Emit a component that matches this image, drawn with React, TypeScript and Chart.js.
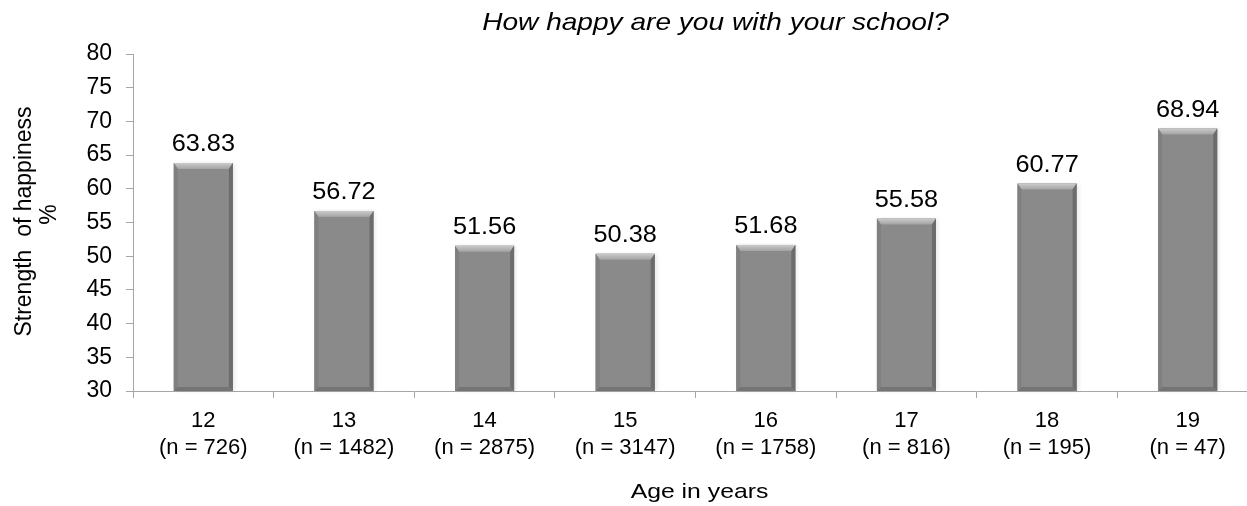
import React, { useEffect, useRef } from 'react';
import { Chart, registerables } from 'chart.js';

Chart.register(...registerables);

const ages = ['12', '13', '14', '15', '16', '17', '18', '19'];
const sampleSizes = [726, 1482, 2875, 3147, 1758, 816, 195, 47];
const happiness = [63.83, 56.72, 51.56, 50.38, 51.68, 55.58, 60.77, 68.94];
const yMin = 30;
const yMax = 80;
const yStep = 5;
const chartTitle = 'How happy are you with your school?';
const yTitleLines = ['Strength  of happiness', '%'];
const xTitle = 'Age in years';

const FONT = '"Liberation Sans", Arial, sans-serif';
const AXIS_COLOR = '#a6a6a6';
const BAR_COLOR = '#8a8a8a';

function barBox(chart: any, bar: any) {
  const { x, y, base, width } = bar.getProps(['x', 'y', 'base', 'width'], true);
  const a = chart.chartArea;
  return {
    l: x - width / 2,
    r: x + width / 2,
    t: Math.max(y, a.top),
    b: Math.min(base, a.bottom),
  };
}

const bevelPlugin = {
  id: 'bevel',
  beforeDatasetsDraw(chart: any) {
    const ctx = chart.ctx;
    const meta = chart.getDatasetMeta(0);
    ctx.save();
    meta.data.forEach((bar: any) => {
      const { l, r, t, b } = barBox(chart, bar);
      ctx.fillStyle = 'rgba(0,0,0,0.25)';
      ctx.shadowColor = 'rgba(0,0,0,0.35)';
      ctx.shadowBlur = 4;
      ctx.shadowOffsetX = 2;
      ctx.shadowOffsetY = 0;
      ctx.fillRect(l, t, r - l, b - t);
    });
    ctx.restore();
  },
  afterDatasetsDraw(chart: any) {
    const ctx = chart.ctx;
    const meta = chart.getDatasetMeta(0);
    ctx.save();
    meta.data.forEach((bar: any) => {
      const { l, r, t, b } = barBox(chart, bar);
      const bt = 6;
      const bs = 4;
      const bb = 4;
      const g = ctx.createLinearGradient(0, t, 0, t + bt);
      g.addColorStop(0, '#cbcbcb');
      g.addColorStop(1, '#a3a3a3');
      ctx.fillStyle = g;
      ctx.beginPath();
      ctx.moveTo(l, t);
      ctx.lineTo(r, t);
      ctx.lineTo(r - bs, t + bt);
      ctx.lineTo(l + bs, t + bt);
      ctx.closePath();
      ctx.fill();
      ctx.fillStyle = '#808080';
      ctx.beginPath();
      ctx.moveTo(l, t);
      ctx.lineTo(l + bs, t + bt);
      ctx.lineTo(l + bs, b - bb);
      ctx.lineTo(l, b);
      ctx.closePath();
      ctx.fill();
      ctx.fillStyle = '#6c6c6c';
      ctx.beginPath();
      ctx.moveTo(r, t);
      ctx.lineTo(r - bs, t + bt);
      ctx.lineTo(r - bs, b - bb);
      ctx.lineTo(r, b);
      ctx.closePath();
      ctx.fill();
      ctx.fillStyle = '#747474';
      ctx.beginPath();
      ctx.moveTo(l, b);
      ctx.lineTo(l + bs, b - bb);
      ctx.lineTo(r - bs, b - bb);
      ctx.lineTo(r, b);
      ctx.closePath();
      ctx.fill();
    });
    ctx.restore();
  },
};

function drawText(ctx: any, text: string, x: number, y: number, sx: number, rot = 0) {
  ctx.save();
  ctx.translate(x, y);
  if (rot) ctx.rotate(rot);
  ctx.scale(sx, 1);
  ctx.fillText(text, 0, 0);
  ctx.restore();
}

const valueLabelPlugin = {
  id: 'valueLabels',
  afterDatasetsDraw(chart: any) {
    const ctx = chart.ctx;
    const meta = chart.getDatasetMeta(0);
    const data = chart.data.datasets[0].data as number[];
    ctx.save();
    ctx.font = `23px ${FONT}`;
    ctx.fillStyle = '#000';
    ctx.textAlign = 'center';
    ctx.textBaseline = 'alphabetic';
    meta.data.forEach((bar: any, i: number) => {
      drawText(ctx, data[i].toFixed(2), bar.x, bar.y - 12, 1.1);
    });
    ctx.restore();
  },
};

const titlesPlugin = {
  id: 'titles',
  afterDraw(chart: any) {
    const ctx = chart.ctx;
    const a = chart.chartArea;
    const cx = (a.left + a.right) / 2;
    const cy = (a.top + a.bottom) / 2;
    ctx.save();
    ctx.fillStyle = '#000';
    ctx.textAlign = 'center';
    ctx.textBaseline = 'middle';
    ctx.font = `italic 24px ${FONT}`;
    drawText(ctx, chartTitle, cx + 20, a.top - 31, 1.17);
    ctx.font = `21px ${FONT}`;
    drawText(ctx, xTitle, cx + 4, a.bottom + 101, 1.18);
    ctx.font = `23px ${FONT}`;
    drawText(ctx, yTitleLines[0], a.left - 108, cy - 1, 1, -Math.PI / 2);
    drawText(ctx, yTitleLines[1], a.left - 83, cy - 8, 1, -Math.PI / 2);
    ctx.restore();
  },
};

export default function App() {
  const canvasRef = useRef<HTMLCanvasElement | null>(null);

  useEffect(() => {
    if (!canvasRef.current) return;
    const labels = ages.map((a, i) => [a, `(n = ${sampleSizes[i]})`]);
    const chart = new Chart(canvasRef.current, {
      type: 'bar',
      data: {
        labels,
        datasets: [
          {
            data: happiness,
            backgroundColor: BAR_COLOR,
            borderWidth: 0,
            barPercentage: 0.42,
            categoryPercentage: 1,
          },
        ],
      },
      options: {
        responsive: false,
        animation: false,
        devicePixelRatio: 1,
        layout: { padding: { top: 54, left: 0, right: 4, bottom: 0 } },
        plugins: {
          legend: { display: false },
          title: { display: false },
          tooltip: { enabled: false },
        },
        scales: {
          x: {
            afterFit(scale: any) {
              scale.height = 115;
            },
            grid: {
              display: true,
              drawOnChartArea: false,
              drawTicks: true,
              tickLength: 7,
              color: AXIS_COLOR,
              offset: true,
            },
            border: { display: true, color: AXIS_COLOR },
            ticks: {
              color: '#000',
              font: { family: FONT, size: 22, lineHeight: 1.2 },
              padding: 10,
              maxRotation: 0,
              autoSkip: false,
            },
          },
          y: {
            min: yMin,
            max: yMax,
            afterFit(scale: any) {
              scale.width = 133;
            },
            grid: {
              display: true,
              drawOnChartArea: false,
              drawTicks: true,
              tickLength: 7,
              color: AXIS_COLOR,
            },
            border: { display: true, color: AXIS_COLOR },
            ticks: {
              stepSize: yStep,
              color: '#000',
              font: { family: FONT, size: 23 },
              padding: 14,
            },
          },
        },
      },
      plugins: [bevelPlugin, valueLabelPlugin, titlesPlugin],
    });
    return () => chart.destroy();
  }, []);

  return (
    <div
      style={{
        position: 'fixed',
        left: 0,
        top: 0,
        width: 1247,
        height: 506,
        overflow: 'hidden',
        background: '#fff',
      }}
    >
      <canvas ref={canvasRef} width={1262} height={506} style={{ display: 'block' }} />
    </div>
  );
}
